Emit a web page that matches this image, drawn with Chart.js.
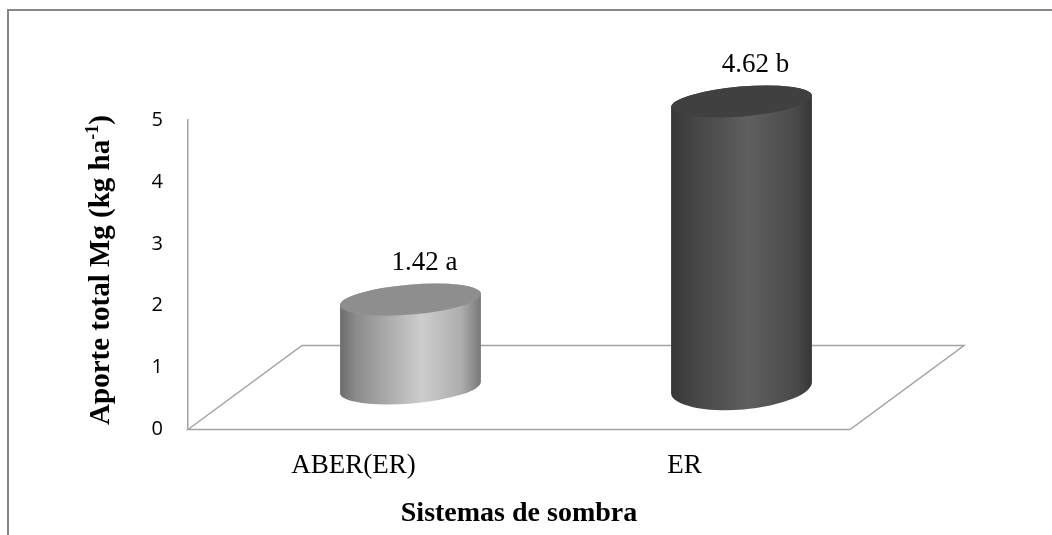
<!DOCTYPE html>
<html lang="es">
<head>
    <meta charset="UTF-8">
    <title>Aporte total Mg</title>
    <script src="https://cdn.jsdelivr.net/npm/chart.js"></script>
    <style>
        html, body { margin: 0; padding: 0; background: #fff; }
        #wrap { width: 1052px; height: 535px; position: relative; }
    </style>
</head>
<body>
    <div id="wrap">
        <canvas id="mgChart" width="1052" height="535"></canvas>
    </div>

    <script>
        // datos
        const categories = ['ABER(ER)', 'ER'];
        const mgValues = [1.42, 4.62];
        const letters = ['a', 'b'];
        const yTicks = [0, 1, 2, 3, 4, 5];

        // aspecto 3D (estilo)
        const depth = { dx: 114, dy: -84 };
        const cylStyles = [
            { stops: [[0, '#6c6c6c'], [0.12, '#8c8c8c'], [0.58, '#cdcdcd'], [0.86, '#adadad'], [1, '#787878']], top: '#8e8e8e', ryTop: 15, ryBot: 16 },
            { stops: [[0, '#373737'], [0.15, '#444444'], [0.55, '#5f5f5f'], [0.88, '#4a4a4a'], [1, '#363636']], top: '#404040', ryTop: 15, ryBot: 22 }
        ];
        const tilt = -4.8 * Math.PI / 180;

        const serif = '"Liberation Serif", "Times New Roman", serif';

        function drawCylinder(ctx, cx, yTop, yBot, rx, st) {
            const c = Math.cos(tilt), s = Math.sin(tilt);
            ctx.save();
            const grad = ctx.createLinearGradient(cx - rx, 0, cx + rx, 0);
            st.stops.forEach(p => grad.addColorStop(p[0], p[1]));
            ctx.beginPath();
            ctx.moveTo(cx - rx * c, yTop - rx * s);
            ctx.lineTo(cx - rx * c, yBot - rx * s);
            ctx.ellipse(cx, yBot, rx, st.ryBot, tilt, Math.PI, 0, true);
            ctx.lineTo(cx + rx * c, yTop + rx * s);
            ctx.ellipse(cx, yTop, rx, st.ryTop, tilt, 0, Math.PI, true);
            ctx.closePath();
            ctx.fillStyle = grad;
            ctx.fill();

            ctx.beginPath();
            ctx.ellipse(cx, yTop, rx, st.ryTop, tilt, 0, Math.PI * 2);
            ctx.fillStyle = st.top;
            ctx.fill();
            ctx.restore();
        }

        const cylinderPlugin = {
            id: 'cylinders',
            beforeDatasetsDraw(chart) {
                const ctx = chart.ctx;
                const a = chart.chartArea;
                // marco exterior
                ctx.save();
                ctx.strokeStyle = '#878787';
                ctx.lineWidth = 2;
                ctx.beginPath();
                ctx.moveTo(8, 540);
                ctx.lineTo(8, 10);
                ctx.lineTo(1060, 10);
                ctx.stroke();

                // piso
                ctx.strokeStyle = '#a3a3a3';
                ctx.lineWidth = 1.5;
                ctx.beginPath();
                ctx.moveTo(a.left, a.bottom);
                ctx.lineTo(a.left + depth.dx, a.bottom + depth.dy);
                ctx.lineTo(a.right + depth.dx, a.bottom + depth.dy);
                ctx.lineTo(a.right, a.bottom);
                ctx.closePath();
                ctx.stroke();
                ctx.restore();
            },
            afterDatasetsDraw(chart) {
                const ctx = chart.ctx;
                const meta = chart.getDatasetMeta(0);
                meta.data.forEach((bar, i) => {
                    const cx = bar.x + depth.dx / 2;
                    const yBot = bar.base + depth.dy / 2;
                    const yTop = bar.y + depth.dy / 2;
                    drawCylinder(ctx, cx, yTop, yBot, bar.width / 2, cylStyles[i]);

                    ctx.save();
                    ctx.fillStyle = '#000';
                    ctx.font = '27px ' + serif;
                    ctx.textAlign = 'center';
                    ctx.textBaseline = 'alphabetic';
                    ctx.fillText(mgValues[i].toFixed(2) + ' ' + letters[i], cx + 14, yTop - 30);
                    ctx.restore();
                });
            },
            afterDraw(chart) {
                // titulo eje Y con superindice
                const ctx = chart.ctx;
                const main = 'Aporte total Mg (kg ha';
                const sup = '-1';
                const end = ')';
                ctx.save();
                ctx.translate(109, 270);
                ctx.rotate(-Math.PI / 2);
                ctx.fillStyle = '#000';
                ctx.textBaseline = 'alphabetic';
                ctx.textAlign = 'left';
                ctx.font = 'bold 29px ' + serif;
                const w1 = ctx.measureText(main).width;
                const w3 = ctx.measureText(end).width;
                ctx.font = 'bold 18px ' + serif;
                const w2 = ctx.measureText(sup).width;
                let x = -(w1 + w2 + w3) / 2;
                ctx.font = 'bold 29px ' + serif;
                ctx.fillText(main, x, 0);
                x += w1;
                ctx.font = 'bold 18px ' + serif;
                ctx.fillText(sup, x, -11);
                x += w2;
                ctx.font = 'bold 29px ' + serif;
                ctx.fillText(end, x, 0);
                ctx.restore();
            }
        };

        new Chart(document.getElementById('mgChart').getContext('2d'), {
            type: 'bar',
            data: {
                labels: categories,
                datasets: [{
                    label: 'Aporte total Mg',
                    data: mgValues,
                    backgroundColor: 'rgba(0,0,0,0)',
                    borderWidth: 0,
                    categoryPercentage: 1,
                    barPercentage: 0.427
                }]
            },
            options: {
                responsive: false,
                animation: false,
                devicePixelRatio: 1,
                layout: { padding: { left: 0, top: 120, right: 202, bottom: 0 } },
                plugins: {
                    legend: { display: false },
                    tooltip: { enabled: false }
                },
                scales: {
                    x: {
                        grid: { display: false, drawTicks: false },
                        border: { display: false },
                        ticks: {
                            color: '#000',
                            padding: 20,
                            font: { family: serif, size: 27 }
                        },
                        title: {
                            display: true,
                            text: 'Sistemas de sombra',
                            color: '#000',
                            padding: { top: 12 },
                            font: { family: serif, size: 28, weight: 'bold' }
                        },
                        afterFit(scale) { scale.height = 105.5; }
                    },
                    y: {
                        min: 0,
                        max: 5,
                        afterBuildTicks(scale) { scale.ticks = yTicks.map(v => ({ value: v })); },
                        grid: { display: false, drawTicks: false },
                        border: { display: true, color: '#a3a3a3', width: 1.5 },
                        ticks: {
                            color: '#000',
                            padding: 25,
                            font: { family: '"Open Sans", sans-serif', size: 20 }
                        },
                        afterFit(scale) { scale.width = 188; }
                    }
                }
            },
            plugins: [cylinderPlugin]
        });
    </script>
</body>
</html>
